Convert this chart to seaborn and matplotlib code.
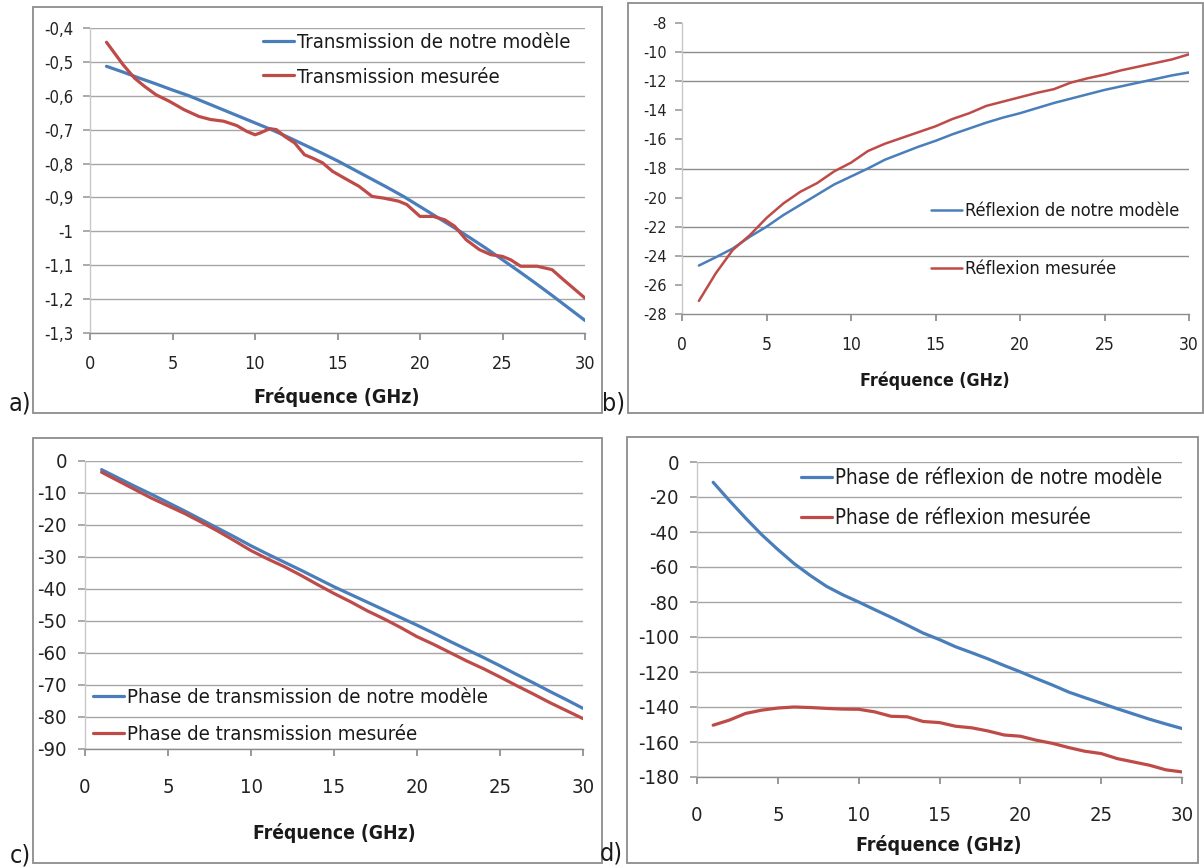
import matplotlib
matplotlib.use("Agg")
import matplotlib.pyplot as plt
import seaborn as sns
from matplotlib.patches import Rectangle
from matplotlib import font_manager
from matplotlib.font_manager import FontProperties

# ---- data ----
freq = list(range(1, 31))
xticks = [0, 5, 10, 15, 20, 25, 30]

# a) transmission (magnitude)
a_model = [-0.513, -0.530, -0.548, -0.565, -0.583, -0.600, -0.620, -0.640, -0.660, -0.680,
           -0.700, -0.722, -0.745, -0.768, -0.792, -0.818, -0.844, -0.870, -0.897, -0.927,
           -0.957, -0.987, -1.018, -1.050, -1.084, -1.118, -1.153, -1.189, -1.226, -1.263]
a_meas_x = [1.0, 2.0, 2.7, 3.3, 4.0, 4.8, 5.7, 6.6, 7.3, 8.1, 8.9, 9.5, 10.0, 10.3, 10.9,
            11.3, 11.8, 12.4, 13.0, 13.5, 14.1, 14.7, 15.6, 16.3, 17.1, 17.8, 18.7, 19.2,
            20.0, 20.8, 21.5, 22.1, 22.8, 23.6, 24.3, 25.0, 25.5, 26.1, 27.1, 28.0, 28.7, 30.0]
a_meas = [-0.442, -0.508, -0.548, -0.572, -0.597, -0.616, -0.641, -0.661, -0.670, -0.675,
          -0.688, -0.705, -0.715, -0.710, -0.697, -0.700, -0.720, -0.739, -0.774, -0.784,
          -0.798, -0.823, -0.848, -0.867, -0.897, -0.902, -0.911, -0.921, -0.956, -0.956,
          -0.966, -0.985, -1.025, -1.054, -1.069, -1.074, -1.084, -1.103, -1.103, -1.113,
          -1.143, -1.197]
a_yticks = [-1.3, -1.2, -1.1, -1.0, -0.9, -0.8, -0.7, -0.6, -0.5, -0.4]
a_yticklabels = ["-1,3", "-1,2", "-1,1", "-1", "-0,9", "-0,8", "-0,7", "-0,6", "-0,5", "-0,4"]

# b) reflexion (magnitude)
b_model = [-24.67, -24.1, -23.5, -22.7, -22.0, -21.2, -20.5, -19.8, -19.1, -18.55,
           -18.0, -17.4, -16.95, -16.5, -16.1, -15.65, -15.25, -14.85, -14.5, -14.2,
           -13.85, -13.5, -13.2, -12.9, -12.6, -12.35, -12.1, -11.85, -11.6, -11.4]
b_meas = [-27.1, -25.2, -23.6, -22.6, -21.4, -20.4, -19.6, -19.0, -18.2, -17.6,
          -16.8, -16.3, -15.9, -15.5, -15.1, -14.6, -14.2, -13.7, -13.4, -13.1,
          -12.8, -12.55, -12.1, -11.8, -11.55, -11.25, -11.0, -10.75, -10.5, -10.15]
b_yticks = [-28, -26, -24, -22, -20, -18, -16, -14, -12, -10, -8]
b_grid = [-10, -12, -18, -22, -24]

# c) transmission phase
c_model = [-2.7, -5.3, -7.9, -10.4, -13.0, -15.6, -18.3, -21.0, -23.7, -26.5,
           -29.1, -31.6, -34.1, -36.7, -39.3, -41.7, -44.1, -46.5, -48.9, -51.3,
           -53.8, -56.4, -58.9, -61.4, -64.0, -66.7, -69.3, -72.0, -74.6, -77.3]
c_meas = [-3.5, -6.2, -8.9, -11.6, -14.0, -16.4, -19.1, -21.9, -24.9, -28.0,
          -30.6, -33.0, -35.7, -38.6, -41.4, -44.0, -46.8, -49.3, -52.0, -54.9,
          -57.3, -59.9, -62.5, -64.9, -67.5, -70.2, -72.8, -75.5, -78.0, -80.5]
c_yticks = [-90, -80, -70, -60, -50, -40, -30, -20, -10, 0]

# d) reflexion phase
d_model = [-11.6, -22.0, -32.0, -41.5, -50.0, -58.0, -64.8, -71.0, -75.8, -80.0,
           -84.4, -88.7, -93.2, -97.8, -101.5, -105.6, -109.0, -112.5, -116.3, -119.9,
           -123.8, -127.5, -131.5, -134.7, -137.8, -141.0, -144.0, -147.0, -149.7, -152.3]
d_meas = [-150.4, -147.5, -143.7, -141.8, -140.6, -140.0, -140.3, -140.8, -141.2, -141.3,
          -142.8, -145.3, -145.6, -148.3, -148.9, -151.0, -151.9, -153.7, -156.0, -156.7,
          -159.0, -160.8, -163.2, -165.3, -166.6, -169.5, -171.4, -173.3, -175.9, -177.1]
d_yticks = [-180, -160, -140, -120, -100, -80, -60, -40, -20, 0]

xlabel = "Fréquence (GHz)"
BLUE = "#4a7ebb"
RED = "#be4b48"

sns.set_theme(style="white")
names = {f.name for f in font_manager.fontManager.ttflist}
narrow = [f for f in font_manager.fontManager.ttflist
          if f.name == 'DejaVu Sans' and 'condensed' in str(f.stretch)]
if 'Liberation Sans Narrow' in names:
    FAMILY, STRETCH = 'Liberation Sans Narrow', 'normal'
elif narrow:
    FAMILY, STRETCH = 'DejaVu Sans', 'condensed'
else:
    FAMILY, STRETCH = 'Liberation Sans', 'normal'
plt.rcParams['font.family'] = [FAMILY, 'DejaVu Sans']
plt.rcParams['font.stretch'] = STRETCH
plt.rcParams['axes.unicode_minus'] = False
plt.rcParams['text.color'] = '#1a1a1a'

W, H = 1204, 867
fig = plt.figure(figsize=(W / 100, H / 100), dpi=100)
renderer = fig.canvas.get_renderer()


def fit(s, width, weight='normal'):
    # font size giving the text the width (px) seen in the reference
    fp = FontProperties(family=FAMILY, stretch=STRETCH, weight=weight, size=10)
    w, _, _ = renderer.get_text_width_height_descent(s, fp, ismath=False)
    return 10 * width / w


def px(l, t, r, b):
    return [l / W, 1 - b / H, (r - l) / W, (b - t) / H]


def frame(l, t, r, b):
    fig.add_artist(Rectangle((l / W, 1 - b / H), (r - l) / W, (b - t) / H,
                             transform=fig.transFigure, fill=False,
                             edgecolor='#8c8c8c', linewidth=1.3))


def style(ax, ylim, yticks, ylabels, ysize, xsize, xpad, ypad, ygrid=True):
    ax.set_xlim(0, 30)
    ax.set_ylim(*ylim)
    ax.set_xticks(xticks)
    ax.set_yticks(yticks)
    if ylabels is not None:
        ax.set_yticklabels(ylabels)
    ax.set_xlabel("")
    ax.set_ylabel("")
    for s in ['top', 'right']:
        ax.spines[s].set_visible(False)
    ax.spines['left'].set_color('#c8c8c8')
    ax.spines['bottom'].set_color('#8c8c8c')
    ax.spines['left'].set_linewidth(1.0)
    ax.spines['bottom'].set_linewidth(1.0)
    ax.tick_params(axis='x', direction='out', length=5, color='#8c8c8c',
                   labelsize=xsize, pad=xpad, labelcolor='#222222', bottom=True)
    ax.tick_params(axis='y', direction='out', length=5, color='#a0a0a0',
                   labelsize=ysize, pad=ypad, labelcolor='#222222', left=True)
    if ygrid:
        ax.yaxis.grid(True, color='#a6a6a6', linewidth=1.0)
    ax.xaxis.grid(False)
    ax.set_axisbelow(True)


def legend(ax, x, y, labels_w, spacing_px):
    lab = ax.get_legend_handles_labels()[1][0]
    size = fit(lab, labels_w)
    fs_px = size * 100 / 72
    ax.legend(loc='center left', bbox_to_anchor=(x / W, 1 - y / H),
              bbox_transform=fig.transFigure, frameon=False, fontsize=size,
              borderpad=0, borderaxespad=0, handlelength=31 / fs_px,
              handletextpad=3 / fs_px,
              labelspacing=max(spacing_px - 0.93 * fs_px, 0) / fs_px)


# a)
ax_a = fig.add_axes(px(90, 28, 585, 333))
sns.lineplot(x=freq, y=a_model, ax=ax_a, color=BLUE, linewidth=2.3,
             label="Transmission de notre modèle")
sns.lineplot(x=a_meas_x, y=a_meas, ax=ax_a, color=RED, linewidth=2.3,
             label="Transmission mesurée", sort=False)
style(ax_a, (-1.3, -0.4), a_yticks, a_yticklabels, 12, 13, 11, 7)
legend(ax_a, 263, 60, 275, 34)
fig.text(337 / W, 1 - 397 / H, xlabel, ha='center', va='center',
         fontsize=fit(xlabel, 165, 'bold'), fontweight='bold')
fig.text(20 / W, 1 - 404 / H, "a)", ha='center', va='center', fontsize=18)
frame(33, 7, 602, 413)

# b)
ax_b = fig.add_axes(px(682, 23, 1189, 314))
sns.lineplot(x=freq, y=b_model, ax=ax_b, color=BLUE, linewidth=1.8,
             label="Réflexion de notre modèle")
sns.lineplot(x=freq, y=b_meas, ax=ax_b, color=RED, linewidth=1.8,
             label="Réflexion mesurée")
style(ax_b, (-28, -8), b_yticks, None, 11.5, 12.5, 11, 6, ygrid=False)
ax_b.hlines(b_grid, 0, 30, color='#8c8c8c', linewidth=1.0, zorder=0)
legend(ax_b, 931, 240, 216, 57)
fig.text(935 / W, 1 - 381 / H, xlabel, ha='center', va='center',
         fontsize=fit(xlabel, 150, 'bold'), fontweight='bold')
fig.text(614 / W, 1 - 404 / H, "b)", ha='center', va='center', fontsize=18)
frame(628, 3, 1203, 413)

# c)
ax_c = fig.add_axes(px(85, 461, 583, 749))
sns.lineplot(x=freq, y=c_model, ax=ax_c, color=BLUE, linewidth=2.3,
             label="Phase de transmission de notre modèle")
sns.lineplot(x=freq, y=c_meas, ax=ax_c, color=RED, linewidth=2.3,
             label="Phase de transmission mesurée")
style(ax_c, (-90, 0), c_yticks, None, 14.5, 14.5, 16, 8)
legend(ax_c, 93, 716, 362, 37)
fig.text(334 / W, 1 - 833 / H, xlabel, ha='center', va='center',
         fontsize=fit(xlabel, 162, 'bold'), fontweight='bold')
fig.text(20 / W, 1 - 855 / H, "c)", ha='center', va='center', fontsize=18)
frame(33, 438, 602, 863)

# d)
ax_d = fig.add_axes(px(697, 462, 1182, 777))
sns.lineplot(x=freq, y=d_model, ax=ax_d, color=BLUE, linewidth=2.3,
             label="Phase de réflexion de notre modèle")
sns.lineplot(x=freq, y=d_meas, ax=ax_d, color=RED, linewidth=2.3,
             label="Phase de réflexion mesurée")
style(ax_d, (-180, 0), d_yticks, None, 14.5, 14.5, 16, 8)
legend(ax_d, 801, 498, 330, 39)
fig.text(939 / W, 1 - 845 / H, xlabel, ha='center', va='center',
         fontsize=fit(xlabel, 165, 'bold'), fontweight='bold')
fig.text(611 / W, 1 - 853 / H, "d)", ha='center', va='center', fontsize=18)
frame(627, 437, 1198, 863)

fig.savefig("out.png", dpi=100)
